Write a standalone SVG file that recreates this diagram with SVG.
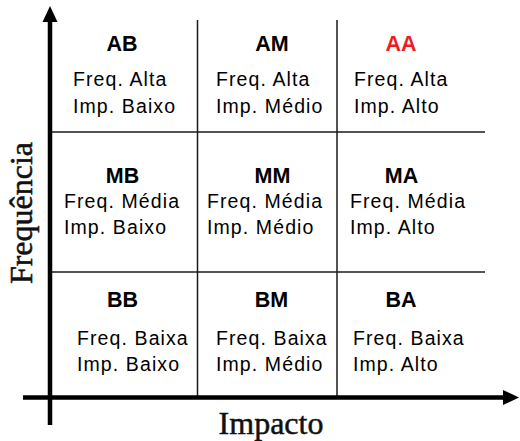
<svg xmlns="http://www.w3.org/2000/svg" width="520" height="441" viewBox="0 0 520 441">
  <style>
    .grid { stroke: #1a1a1a; stroke-width: 1.5; fill: none; }
    .axis { stroke: #000; stroke-width: 4.5; fill: none; }
    .title { font-family: "Liberation Sans", Arial, sans-serif; font-weight: bold; font-size: 21.5px; fill: #000; text-anchor: middle; }
    .title.hot { fill: #ED1C24; }
    .line { font-family: "Liberation Sans", Arial, sans-serif; font-size: 19.5px; letter-spacing: 1.1px; fill: #000; }
    .axislabel { font-family: "Liberation Serif", "Times New Roman", serif; font-size: 32px; fill: #111; stroke: #111; stroke-width: 0.5; text-anchor: middle; }
  </style>
  <rect width="520" height="441" fill="#fff"/>

  <!-- grid lines and axes -->
  <g id="connectors">
    <line class="grid" x1="197.5" y1="20" x2="197.5" y2="397"/>
    <line class="grid" x1="337" y1="20" x2="337" y2="397"/>
    <line class="grid" x1="52" y1="132" x2="485" y2="132"/>
    <line class="grid" x1="52" y1="272" x2="485" y2="272"/>
    <line class="axis" x1="50" y1="425" x2="50" y2="20"/>
    <polygon points="50,6 57.5,22 42.5,22" fill="#000"/>
    <line class="axis" x1="23" y1="397.5" x2="505" y2="397.5"/>
    <polygon points="519,397.5 503,390 503,405" fill="#000"/>
  </g>

  <text class="axislabel" transform="translate(32,213) rotate(-90)">Frequência</text>
  <text class="axislabel" x="271" y="434">Impacto</text>

  <!-- top row: high frequency -->
  <g id="AB">
    <text class="title" x="122" y="51">AB</text>
    <text class="line" x="73" y="86">Freq. Alta</text>
    <text class="line" x="73" y="113">Imp. Baixo</text>
  </g>
  <g id="AM">
    <text class="title" x="272" y="51">AM</text>
    <text class="line" x="216" y="86">Freq. Alta</text>
    <text class="line" x="216" y="113">Imp. Médio</text>
  </g>
  <g id="AA">
    <text class="title hot" x="401" y="51">AA</text>
    <text class="line" x="354" y="86">Freq. Alta</text>
    <text class="line" x="354" y="113">Imp. Alto</text>
  </g>

  <!-- middle row: medium frequency -->
  <g id="MB">
    <text class="title" x="122.5" y="183">MB</text>
    <text class="line" x="64" y="208">Freq. Média</text>
    <text class="line" x="64" y="234">Imp. Baixo</text>
  </g>
  <g id="MM">
    <text class="title" x="272.5" y="183">MM</text>
    <text class="line" x="207" y="208">Freq. Média</text>
    <text class="line" x="207" y="234">Imp. Médio</text>
  </g>
  <g id="MA">
    <text class="title" x="401.5" y="183">MA</text>
    <text class="line" x="350" y="208">Freq. Média</text>
    <text class="line" x="350" y="234">Imp. Alto</text>
  </g>

  <!-- bottom row: low frequency -->
  <g id="BB">
    <text class="title" x="122.5" y="307">BB</text>
    <text class="line" x="77" y="344.5">Freq. Baixa</text>
    <text class="line" x="77" y="370.5">Imp. Baixo</text>
  </g>
  <g id="BM">
    <text class="title" x="271.5" y="307">BM</text>
    <text class="line" x="216" y="344.5">Freq. Baixa</text>
    <text class="line" x="216" y="370.5">Imp. Médio</text>
  </g>
  <g id="BA">
    <text class="title" x="401" y="307">BA</text>
    <text class="line" x="353" y="344.5">Freq. Baixa</text>
    <text class="line" x="353" y="370.5">Imp. Alto</text>
  </g>
</svg>
